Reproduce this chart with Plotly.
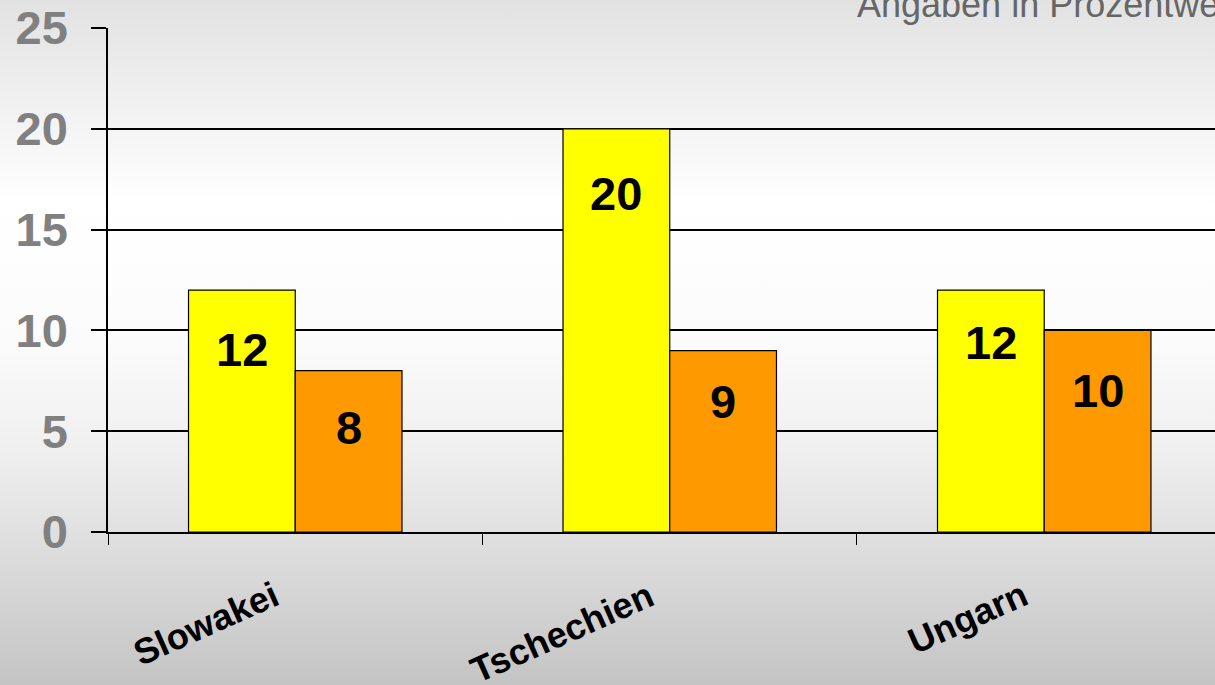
import base64
import plotly.graph_objects as go

# Data
countries = ["Slowakei", "Tschechien", "Ungarn"]
series_a = [12, 20, 12]
series_b = [8, 9, 10]
y_ticks = [0, 5, 10, 15, 20, 25]
note_text = "Angaben in Prozentwerten"

YELLOW = "#FFFF00"
ORANGE = "#FF9900"
BARGAP = 0.43
FONT = "Liberation Sans, Arial, sans-serif"

# Distance (px) of each value label below its bar top
label_drop_a = [59, 65, 52]
label_drop_b = [57, 51, 60]

# Vertical grey gradient used as page background
svg = (
    '<svg xmlns="http://www.w3.org/2000/svg" width="100" height="100" preserveAspectRatio="none">'
    '<defs><linearGradient id="g" x1="0" y1="0" x2="0" y2="1">'
    '<stop offset="0" stop-color="#e2e2e2"/>'
    '<stop offset="0.30" stop-color="#ffffff"/>'
    '<stop offset="0.50" stop-color="#fbfbfb"/>'
    '<stop offset="0.66" stop-color="#efefef"/>'
    '<stop offset="0.78" stop-color="#e0e0e0"/>'
    '<stop offset="1" stop-color="#c4c4c4"/>'
    '</linearGradient></defs>'
    '<rect width="100" height="100" fill="url(#g)"/></svg>'
)
bg_uri = "data:image/svg+xml;base64," + base64.b64encode(svg.encode()).decode()

fig = go.Figure()
for vals, color in ((series_a, YELLOW), (series_b, ORANGE)):
    fig.add_trace(go.Bar(
        x=countries, y=vals,
        marker=dict(color=color, line=dict(color="#000000", width=1.2)),
        showlegend=False, hoverinfo="skip",
    ))

# Value labels inside the bars, near the top
bar_w = (1 - BARGAP) / 2
annotations = []
for s_idx, (vals, drops) in enumerate(((series_a, label_drop_a), (series_b, label_drop_b))):
    offset = (s_idx - 0.5) * bar_w
    for i, v in enumerate(vals):
        annotations.append(dict(
            x=i + offset, y=v, xref="x", yref="y",
            text=f"<b>{v}</b>", showarrow=False,
            yanchor="middle", yshift=-drops[i],
            font=dict(family=FONT, size=47, color="#000000"),
        ))

# Rotated category labels below the axis
for i, name in enumerate(countries):
    annotations.append(dict(
        x=i, y=0, xref="x", yref="y",
        text=f"<b>{name}</b>", showarrow=False, textangle=-24,
        xanchor="right", yanchor="top", xshift=-8, yshift=-39,
        font=dict(family=FONT, size=36, color="#000000"),
    ))

# Note in the top right corner
annotations.append(dict(
    x=0.6748, y=1, xref="paper", yref="paper",
    text=note_text, showarrow=False,
    xanchor="left", yanchor="bottom", yshift=1,
    font=dict(family=FONT, size=36, color="#666666"),
))

fig.update_layout(
    width=1215, height=685,
    margin=dict(l=108, r=0, t=28, b=153),
    paper_bgcolor="#e8e8e8",
    plot_bgcolor="rgba(0,0,0,0)",
    barmode="group", bargap=BARGAP, bargroupgap=0,
    annotations=annotations,
    images=[dict(
        source=bg_uri, xref="paper", yref="paper",
        x=-108 / 1107, y=1 + 28 / 504, sizex=1215 / 1107, sizey=685 / 504,
        xanchor="left", yanchor="top", sizing="stretch", layer="below",
    )],
    xaxis=dict(
        type="category", range=[-0.5, 2.456],
        showgrid=False, showticklabels=False,
        showline=True, linecolor="#000000", linewidth=1.5,
        ticks="outside", tickson="boundaries", ticklen=11,
        tickcolor="#000000", tickwidth=1.2, zeroline=False,
    ),
    yaxis=dict(
        range=[0, 25], tickvals=y_ticks,
        showgrid=True, gridcolor="#000000", gridwidth=1.5,
        showline=True, linecolor="#000000", linewidth=1.5,
        ticks="outside", ticklen=15, tickcolor="#000000", tickwidth=1.5,
        tickfont=dict(family=FONT, size=47, color="#808080", weight="bold"),
        ticklabelstandoff=14, zeroline=False,
    ),
)

fig.write_html("out.html")
